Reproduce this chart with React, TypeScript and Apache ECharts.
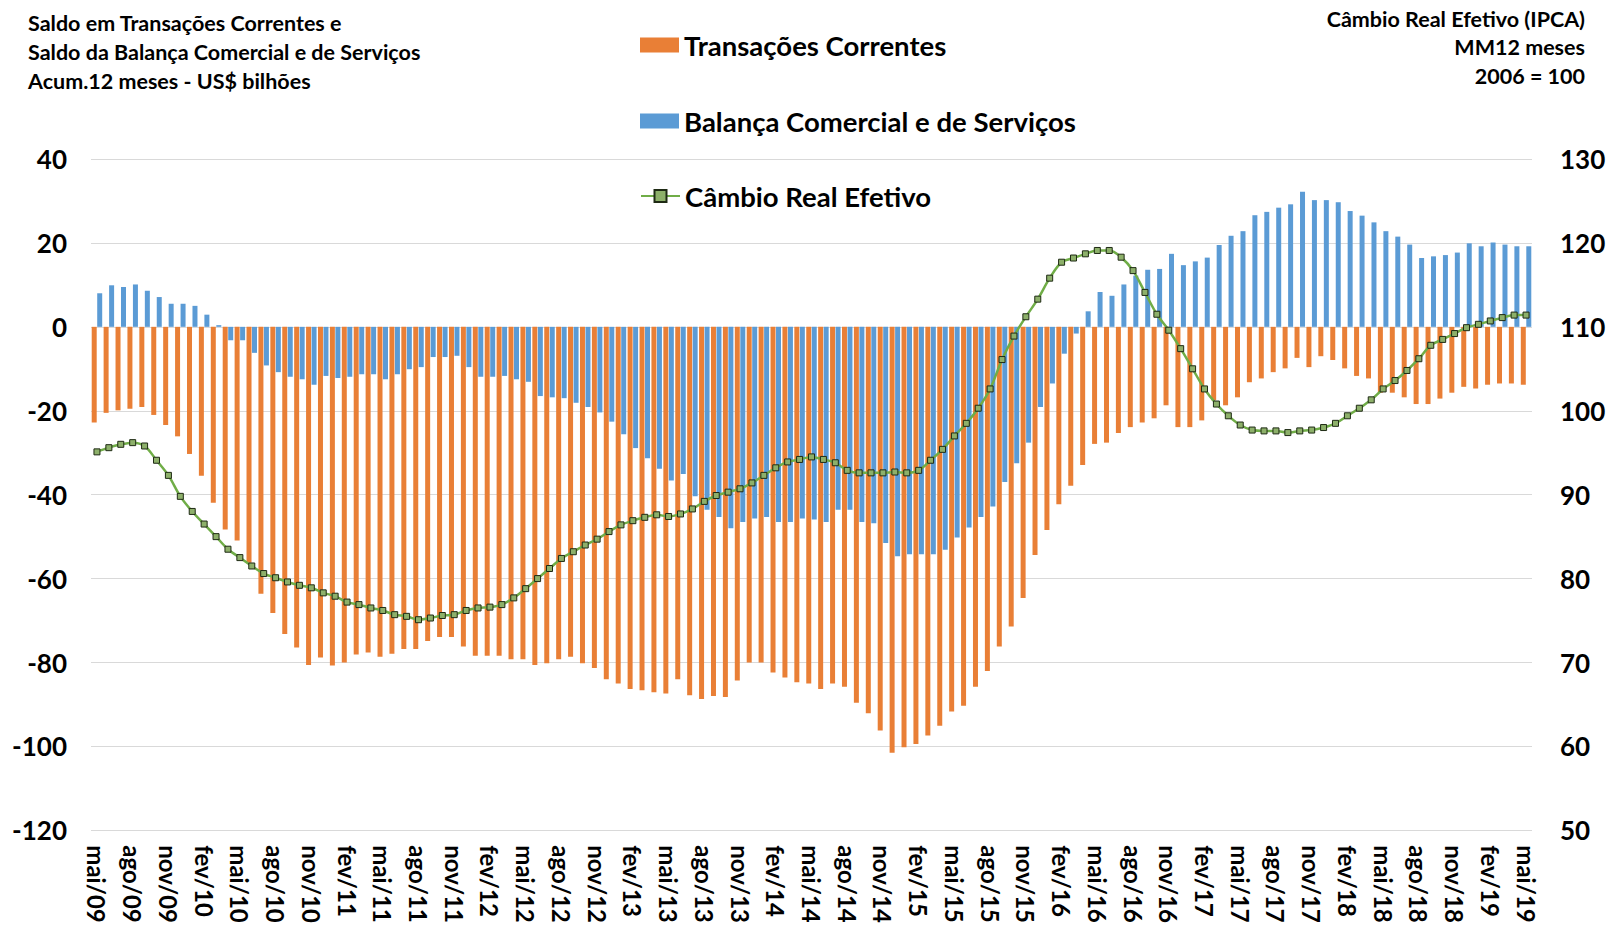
import React, { useEffect, useRef } from "react";
import * as echarts from "echarts";

const MONTHS = ["jan", "fev", "mar", "abr", "mai", "jun", "jul", "ago", "set", "out", "nov", "dez"];
const categories: string[] = [];
for (let k = 0; k < 121; k++) {
  const m = (4 + k) % 12;
  const y = 9 + Math.floor((4 + k) / 12);
  categories.push(`${MONTHS[m]}/${String(y).padStart(2, "0")}`);
}

const transacoesCorrentes = [
  -22.8, -20.5, -19.9, -19.5, -19.1, -21.0, -23.4, -26.1, -30.3, -35.5, -41.9, -48.3, -50.9, -56.2, -63.6, -68.2, -73.2, -76.4, -80.6, -78.8, -80.7,
  -80.0, -78.1, -77.6, -78.6, -77.9, -76.8, -76.8, -74.9, -73.9, -73.9, -76.2, -78.4, -78.4, -78.4, -79.2, -79.2, -80.6, -80.2, -79.2, -78.6, -80.2,
  -81.3, -84.0, -85.0, -86.3, -86.6, -87.1, -87.4, -84.0, -87.8, -88.7, -88.0, -88.2, -84.3, -80.0, -80.0, -82.4, -83.6, -84.7, -85.0, -86.3, -85.0,
  -85.8, -89.6, -92.1, -96.2, -101.5, -100.2, -99.4, -97.4, -95.1, -91.7, -90.3, -85.8, -82.0, -76.2, -71.4, -64.6, -54.4, -48.4, -42.3, -37.9, -32.9,
  -27.9, -27.6, -25.3, -23.9, -22.8, -21.8, -18.7, -23.9, -23.9, -22.3, -17.5, -18.7, -16.8, -13.2, -12.3, -10.8, -9.9, -7.4, -9.6, -7.0, -7.9,
  -9.9, -11.7, -12.3, -15.7, -15.7, -16.8, -18.4, -18.4, -17.1, -15.7, -14.3, -14.7, -13.8, -13.5, -13.5, -13.8,
];

const balancaComercial = [
  8.0, 9.9, 9.5, 10.1, 8.6, 7.1, 5.5, 5.5, 5.0, 2.9, 0.4, -3.2, -3.2, -6.2, -9.2, -10.8, -11.9, -12.5, -13.8, -11.7, -12.2,
  -11.9, -11.3, -11.3, -12.5, -11.3, -10.1, -9.6, -7.2, -7.2, -6.9, -9.6, -11.9, -11.9, -11.7, -12.5, -13.1, -16.5, -16.8, -17.0, -18.1, -19.1,
  -20.4, -22.6, -25.6, -28.9, -31.3, -33.8, -36.6, -35.1, -40.4, -43.6, -45.3, -48.0, -46.5, -45.7, -45.3, -46.5, -46.5, -45.7, -45.9, -46.5, -43.6,
  -43.6, -46.5, -46.8, -51.5, -54.7, -54.2, -54.2, -54.2, -53.1, -50.2, -47.8, -45.3, -42.8, -37.0, -32.5, -27.6, -19.1, -13.5, -6.4, -1.6, 3.7,
  8.3, 7.4, 10.1, 12.2, 13.6, 13.8, 17.4, 14.7, 15.6, 16.5, 19.5, 21.7, 22.8, 26.6, 27.4, 28.4, 29.2, 32.2, 30.2, 30.2, 29.7,
  27.6, 26.5, 24.9, 22.8, 21.5, 19.6, 16.4, 16.8, 17.1, 17.7, 19.9, 19.2, 20.1, 19.6, 19.2, 19.2,
];

const cambioReal = [
  95.1, 95.6, 96.0, 96.2, 95.8, 94.1, 92.3, 89.8, 88.0, 86.5, 85.0, 83.5, 82.5, 81.5, 80.6, 80.1, 79.6, 79.2, 78.9, 78.3, 77.9,
  77.2, 76.9, 76.5, 76.2, 75.7, 75.5, 75.1, 75.3, 75.6, 75.7, 76.2, 76.5, 76.6, 76.9, 77.7, 78.8, 80.0, 81.2, 82.4, 83.2, 84.0,
  84.7, 85.6, 86.4, 86.9, 87.3, 87.6, 87.4, 87.7, 88.3, 89.2, 89.9, 90.3, 90.7, 91.4, 92.3, 93.2, 93.9, 94.2, 94.5, 94.2, 93.8,
  92.9, 92.6, 92.6, 92.6, 92.7, 92.6, 92.9, 94.1, 95.4, 97.0, 98.5, 100.3, 102.6, 106.1, 108.9, 111.2, 113.3, 115.8, 117.7, 118.2, 118.7,
  119.1, 119.1, 118.3, 116.7, 114.1, 111.5, 109.6, 107.4, 105.0, 102.6, 100.8, 99.4, 98.3, 97.7, 97.6, 97.6, 97.4, 97.6, 97.7, 98.0, 98.5,
  99.4, 100.3, 101.3, 102.6, 103.6, 104.8, 106.2, 107.8, 108.5, 109.2, 109.9, 110.3, 110.7, 111.1, 111.4, 111.4,
];

const titleLeft = ["Saldo em Transações Correntes e", "Saldo da Balança Comercial e de Serviços", "Acum.12 meses - US$ bilhões"];
const titleRight = ["Câmbio Real Efetivo (IPCA)", "MM12 meses", "2006 = 100"];
const seriesNames = ["Transações Correntes", "Balança Comercial e de Serviços", "Câmbio Real Efetivo"];

const FONT = "Lato, 'Open Sans', sans-serif";

export default function App() {
  const ref = useRef<HTMLDivElement>(null);
  useEffect(() => {
    if (!ref.current) return;
    const chart = echarts.init(ref.current, undefined, { renderer: "svg" });
    const leftY = [22.6, 52.3, 81];
    const rightY = [18.5, 47, 76];
    const graphic: any[] = [];
    titleLeft.forEach((t, i) =>
      graphic.push({
        type: "text",
        x: 28,
        y: leftY[i],
        style: { text: t, fill: "#000", fontSize: 21.5, fontWeight: "bold", fontFamily: FONT, textAlign: "left", textVerticalAlign: "middle" },
      })
    );
    titleRight.forEach((t, i) =>
      graphic.push({
        type: "text",
        x: 1585,
        y: rightY[i],
        style: { text: t, fill: "#000", fontSize: 21.5, fontWeight: "bold", fontFamily: FONT, textAlign: "right", textVerticalAlign: "middle" },
      })
    );
    const LH = 34;
    const legendCenters = [45, 121, 196];
    const legend = seriesNames.map((n, i) => ({
      data: [n],
      left: 640,
      top: legendCenters[i] - LH / 2,
      padding: 0,
      orient: "horizontal",
      itemWidth: 39,
      itemHeight: 15,
      selectedMode: false,
      ...(i < 2 ? { icon: "rect" } : {}),
      textStyle: { fontSize: 27.5, fontWeight: "bold", color: "#000", fontFamily: FONT, lineHeight: LH },
    }));
    chart.setOption({
      animation: false,
      textStyle: { fontFamily: FONT },
      grid: { left: 91, right: 77, top: 159, bottom: 94 },
      graphic,
      legend,
      xAxis: {
        type: "category",
        data: categories,
        axisLine: { show: false },
        axisTick: { show: false },
        splitLine: { show: false },
        axisLabel: { interval: 2, rotate: -90, margin: 15, fontSize: 24, fontWeight: "bold", color: "#000", fontFamily: FONT },
      },
      yAxis: [
        {
          type: "value",
          min: -120,
          max: 40,
          interval: 20,
          axisLine: { show: false },
          axisTick: { show: false },
          axisLabel: { fontSize: 26, fontWeight: "bold", color: "#000", margin: 24, fontFamily: FONT },
          splitLine: { lineStyle: { color: "#D9D9D9", width: 1 } },
        },
        {
          type: "value",
          min: 50,
          max: 130,
          interval: 10,
          position: "right",
          axisLine: { show: false },
          axisTick: { show: false },
          axisLabel: { fontSize: 26, fontWeight: "bold", color: "#000", margin: 28, fontFamily: FONT },
          splitLine: { show: false },
        },
      ],
      series: [
        { name: seriesNames[0], type: "bar", data: transacoesCorrentes, barWidth: 5, barGap: "10%", itemStyle: { color: "#E97F36" } },
        { name: seriesNames[1], type: "bar", data: balancaComercial, barWidth: 5, itemStyle: { color: "#5B9BD5" } },
        {
          name: seriesNames[2],
          type: "line",
          yAxisIndex: 1,
          data: cambioReal,
          smooth: 0.35,
          symbol: "rect",
          symbolSize: 6,
          showAllSymbol: true,
          lineStyle: { color: "#70AD47", width: 2.5 },
          itemStyle: { color: "#8DB06A", borderColor: "#1E2A14", borderWidth: 1 },
          z: 5,
        },
      ],
    });
    return () => chart.dispose();
  }, []);
  return <div ref={ref} style={{ position: "fixed", left: 0, top: 0, width: 1609, height: 926, background: "#fff" }} />;
}
